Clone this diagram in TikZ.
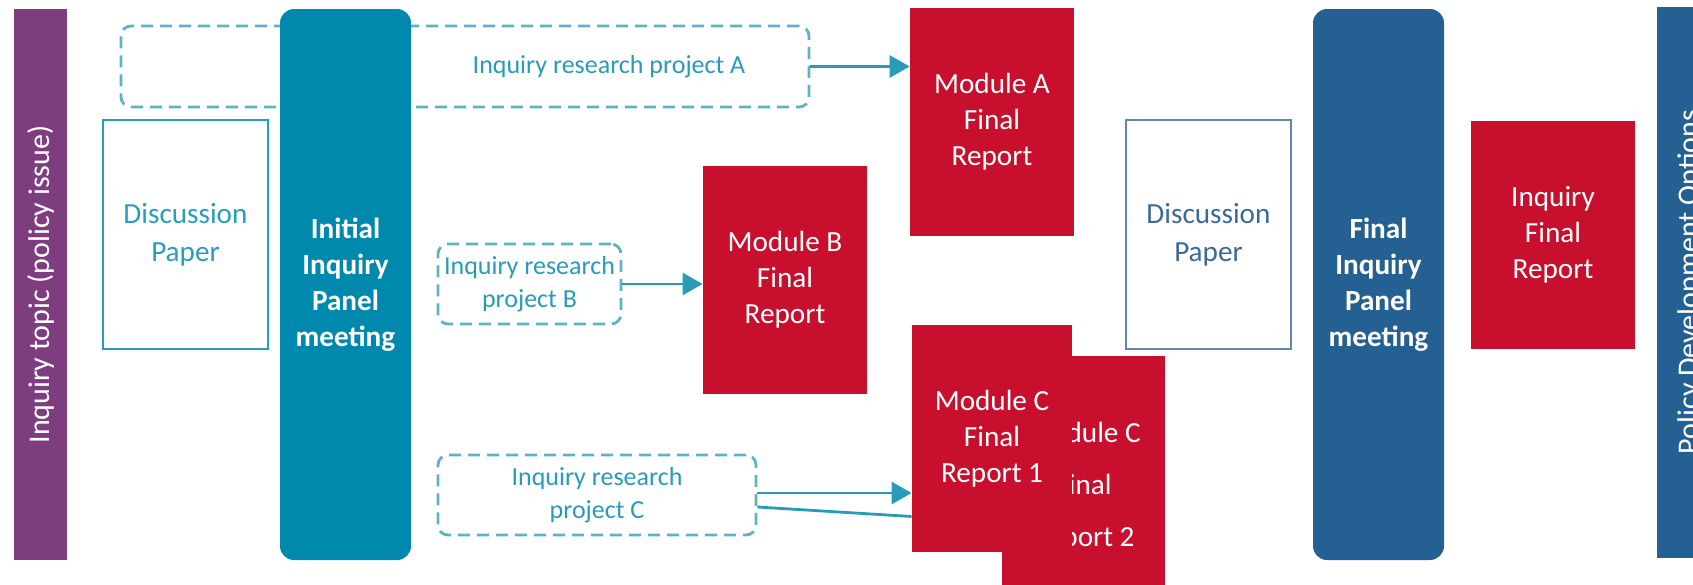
\documentclass[tikz,border=0pt]{standalone}
\usepackage{fontspec}
\setmainfont{Carlito}
\usetikzlibrary{arrows.meta,calc}
\definecolor{topicpurple}{RGB}{125,61,126}
\definecolor{initteal}{RGB}{0,137,172}
\definecolor{finblue}{RGB}{36,96,145}
\definecolor{reportred}{RGB}{200,16,46}
\definecolor{paperteal}{RGB}{40,158,190}
\definecolor{paperblue}{RGB}{95,135,175}
\definecolor{papertext}{RGB}{60,105,155}
\definecolor{dashteal}{RGB}{95,178,198}
\definecolor{linkteal}{RGB}{40,155,185}
\begin{document}
\begin{tikzpicture}[x=0.5pt,y=-0.5pt,
  bar/.style={fill=#1, text=white, rotate=90, minimum width=275.5pt, minimum height=26.5pt,
    inner sep=0pt, font=\fontsize{15}{18}\selectfont},
  panel/.style={fill=#1, text=white, rounded corners=7pt, minimum width=65.5pt, minimum height=275.5pt,
    inner sep=0pt, align=center, font=\fontsize{14.6}{18}\selectfont\bfseries},
  paper/.style={draw=#1, line width=1.1pt, fill=white, minimum width=82.5pt, minimum height=114.5pt,
    inner sep=0pt, align=center, font=\fontsize{14.6}{19}\selectfont},
  report/.style={fill=reportred, text=white, minimum width=82pt, minimum height=114pt,
    inner sep=0pt, align=center, font=\fontsize{14.6}{18}\selectfont},
  project/.style={draw=dashteal, line width=1.4pt, dash pattern=on 6pt off 3.5pt, rounded corners=5pt,
    inner sep=0pt, align=center, text=linkteal, font=\fontsize{13}{16.5}\selectfont},
  link/.style={draw=linkteal, line width=1.4pt},
  >={Triangle[length=10pt,width=11pt]}]

\useasboundingbox (0,0) rectangle (1693,584);
\clip (0,0) rectangle (1693,584);

\node[bar=topicpurple] (topic) at (40.5,284.5) {Inquiry topic (policy issue)};

% research projects
\node[project, minimum width=344pt, minimum height=40.5pt] (prA) at (465,66.5) {};
\node[text=linkteal, font=\fontsize{13}{16.5}\selectfont] (prAtext) at (609,66.5) {Inquiry research project A};
\node[paper=paperteal, text=paperteal] (paperA) at (185.5,234.5) {Discussion\\Paper};
\node[panel=initteal] (initpanel) at (345.5,284.5) {Initial\\Inquiry\\Panel\\meeting};
\node[project, minimum width=91.5pt, minimum height=40pt] (prB) at (529.5,284) {Inquiry research\\project B};
\node[project, minimum width=159pt, minimum height=40pt] (prC) at (597,495) {Inquiry research\\project C};

% module reports
\node[report] (modA) at (992,122) {Module A\\Final\\Report};
\node[report] (modB) at (785,280) {Module B\\Final\\Report};
\node[report, minimum width=81.5pt, minimum height=131pt, font=\fontsize{14.6}{26}\selectfont] (rep2) at (1083.5,487) {Module C\\Final\\Report 2};
\node[report, minimum width=80pt, minimum height=113.5pt] (rep1) at (992,438.5) {Module C\\Final\\Report 1};

\draw[link,->] (prA.east) -- (prA.east -| modA.west);
\draw[link,->] (prB.east) -- (prB.east -| modB.west);
\draw[link,->] ([yshift=1pt]prC.east) -- ([yshift=1pt]prC.east -| rep1.west);
\draw[link] ([yshift=-6pt]prC.east) -- ([yshift=-39pt]rep1.west);

% final stage
\node[paper=paperblue, text=papertext] (paperB) at (1208.5,234.5) {Discussion\\Paper};
\node[panel=finblue] (finpanel) at (1378.5,284.5) {Final\\Inquiry\\Panel\\meeting};
\node[report] (finreport) at (1553,234.5) {Inquiry\\Final\\Report};
\node[bar=finblue, minimum height=33pt] (policy) at (1690,282) {Policy Development Options};
\end{tikzpicture}
\end{document}
